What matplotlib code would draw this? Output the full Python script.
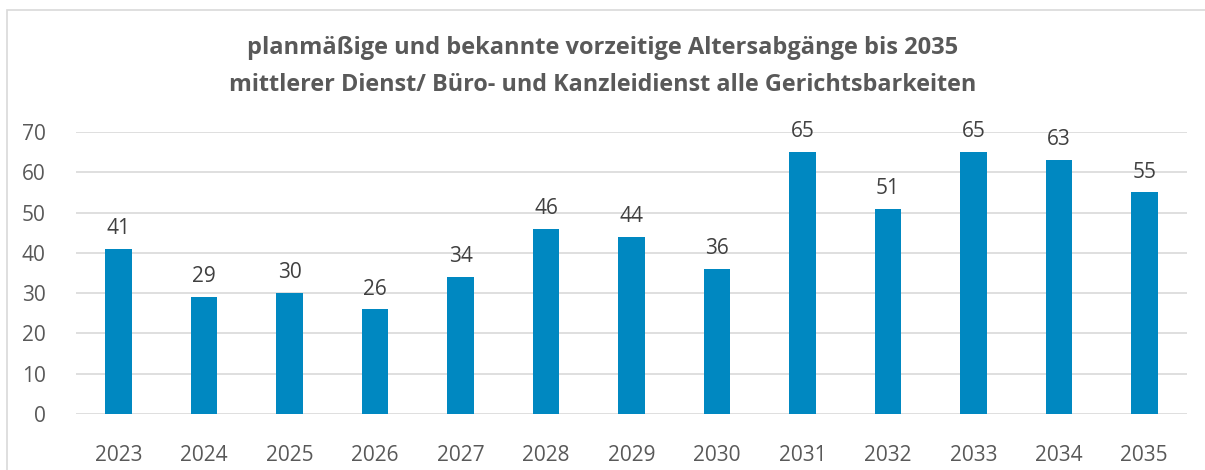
import matplotlib
matplotlib.use("Agg")
import matplotlib.pyplot as plt
from matplotlib.patches import Rectangle

years = ["2023", "2024", "2025", "2026", "2027", "2028", "2029", "2030",
         "2031", "2032", "2033", "2034", "2035"]
values = [41, 29, 30, 26, 34, 46, 44, 36, 65, 51, 65, 63, 55]
title_lines = ["planmäßige und bekannte vorzeitige Altersabgänge bis 2035",
               "mittlerer Dienst/ Büro- und Kanzleidienst alle Gerichtsbarkeiten"]

plt.rcParams['font.family'] = ['Open Sans', 'DejaVu Sans']

fig = plt.figure(figsize=(12.05, 4.70), dpi=100)
fig.patch.set_facecolor("white")
# outer border
fig.add_artist(Rectangle((7/1205, -0.1), 1.2, 1 - 10/470 + 0.1, transform=fig.transFigure,
                         fill=False, edgecolor="#D9D9D9", linewidth=1.2))

ax = fig.add_axes([76/1205, 1 - 414/470, (1187 - 76)/1205, (414 - 132)/470])
x = range(len(years))
bars = ax.bar(x, values, width=0.31, color="#0088C1", zorder=3)
ax.set_xlim(-0.5, len(years) - 0.5)
ax.set_ylim(0, 70)
ax.set_yticks(range(0, 71, 10))
ax.set_xticks(list(x))
ax.set_xticklabels(years)
ax.grid(axis="y", color="#D9D9D9", linewidth=1.2, zorder=0)
for s in ax.spines.values():
    s.set_visible(False)
ax.tick_params(axis="both", length=0, labelsize=15, colors="#595959")
ax.tick_params(axis="y", pad=22)
ax.tick_params(axis="x", pad=22)
for b, v in zip(bars, values):
    ax.annotate(str(v), (b.get_x() + b.get_width() / 2, v), xytext=(0, 7),
                textcoords="offset points", ha="center", va="bottom",
                fontsize=15, color="#404040")

fig.text(0.5, 1 - 48/470, title_lines[0], ha="center", va="center",
         fontsize=17, fontweight="bold", color="#595959")
fig.text(0.5, 1 - 85/470, title_lines[1], ha="center", va="center",
         fontsize=16.8, fontweight="bold", color="#595959")

fig.savefig("out.png", dpi=100)
